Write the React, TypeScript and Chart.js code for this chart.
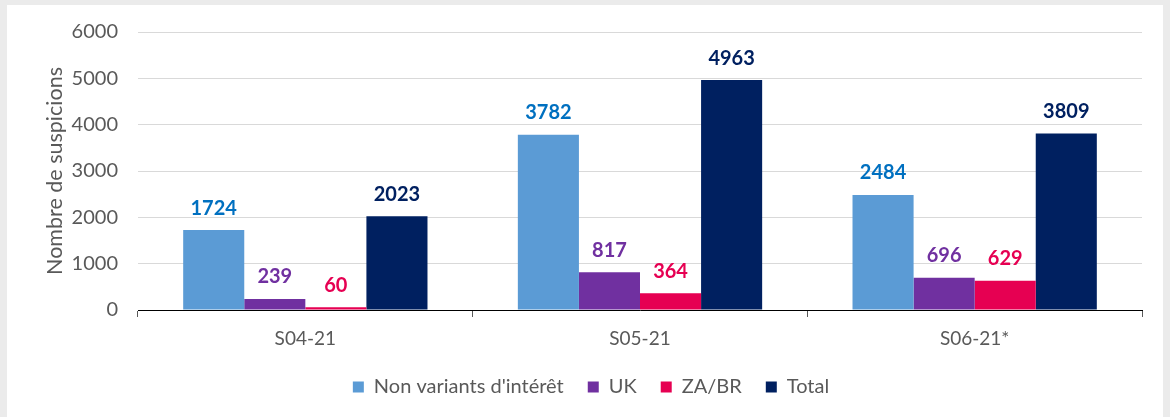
import React, { useEffect, useRef } from "react";
import { Chart, registerables } from "chart.js";

Chart.register(...registerables);

const categories = ["S04-21", "S05-21", "S06-21*"];
const seriesNames = ["Non variants d'intérêt", "UK", "ZA/BR", "Total"];
const nonVariants = [1724, 3782, 2484];
const uk = [239, 817, 696];
const zaBr = [60, 364, 629];
const total = [2023, 4963, 3809];
const yTicks = [0, 1000, 2000, 3000, 4000, 5000, 6000];

const barColors = ["#5B9BD5", "#7030A0", "#E60052", "#002060"];
const labelColors = ["#0070C0", "#7030A0", "#E60052", "#002060"];

const FONT = "Lato, 'Open Sans', sans-serif";

const valueLabels = {
  id: "valueLabels",
  afterDatasetsDraw(chart: any) {
    const ctx = chart.ctx;
    ctx.save();
    ctx.font = `bold 20px ${FONT}`;
    ctx.textAlign = "center";
    ctx.textBaseline = "middle";
    chart.data.datasets.forEach((ds: any, di: number) => {
      const meta = chart.getDatasetMeta(di);
      meta.data.forEach((bar: any, i: number) => {
        ctx.fillStyle = labelColors[di];
        ctx.fillText(String(ds.data[i]), bar.x, bar.y - 22);
      });
    });
    ctx.restore();
  },
};

export default function App() {
  const ref = useRef<HTMLCanvasElement>(null);
  useEffect(() => {
    if (!ref.current) return;
    const allSeries = [nonVariants, uk, zaBr, total];
    const chart = new Chart(ref.current, {
      type: "bar",
      data: {
        labels: categories,
        datasets: allSeries.map((d, i) => ({
          label: seriesNames[i],
          data: d,
          backgroundColor: barColors[i],
          borderWidth: 0,
          barPercentage: 1,
          categoryPercentage: 0.73,
        })),
      },
      options: {
        responsive: false,
        animation: false,
        devicePixelRatio: 1,
        layout: { padding: { left: 40, right: 28, top: 31, bottom: 10 } },
        plugins: {
          tooltip: { enabled: false },
          legend: {
            position: "bottom",
            labels: {
              boxWidth: 11,
              boxHeight: 11,
              padding: 24,
              color: "#595959",
              font: { family: FONT, size: 20 },
            },
          },
        },
        scales: {
          x: {
            offset: true,
            grid: {
              offset: true,
              drawOnChartArea: false,
              drawTicks: true,
              tickLength: 7,
              color: "#595959",
            },
            border: { display: true, color: "#000000", width: 1 },
            ticks: {
              color: "#595959",
              padding: 10,
              font: { family: FONT, size: 19 },
            },
            afterFit: (s: any) => {
              s.height = 43;
            },
          },
          y: {
            min: 0,
            max: 6000,
            afterBuildTicks: (s: any) => {
              s.ticks = yTicks.map((v) => ({ value: v }));
            },
            grid: { color: "#D9D9D9", drawTicks: false },
            border: { display: false },
            ticks: {
              color: "#595959",
              padding: 20,
              font: { family: FONT, size: 20 },
              callback: (v: any) => String(v),
            },
            title: {
              display: true,
              text: "Nombre de suspicions",
              color: "#595959",
              font: { family: FONT, size: 21.5 },
              padding: { top: 2, bottom: 0 },
            },
            afterFit: (s: any) => {
              s.width = 98;
            },
          },
        },
      },
      plugins: [valueLabels],
    });
    return () => chart.destroy();
  }, []);

  return (
    <div
      style={{
        position: "fixed",
        left: 0,
        top: 0,
        width: 1170,
        height: 417,
        background: "#EBEBEB",
        overflow: "hidden",
      }}
    >
      <div
        style={{
          position: "absolute",
          left: 7,
          top: 5,
          width: 1156,
          height: 412,
          background: "#FFFFFF",
        }}
      />
      <canvas
        ref={ref}
        width={1170}
        height={417}
        style={{ position: "absolute", left: 0, top: 0, width: 1170, height: 417 }}
      />
    </div>
  );
}
